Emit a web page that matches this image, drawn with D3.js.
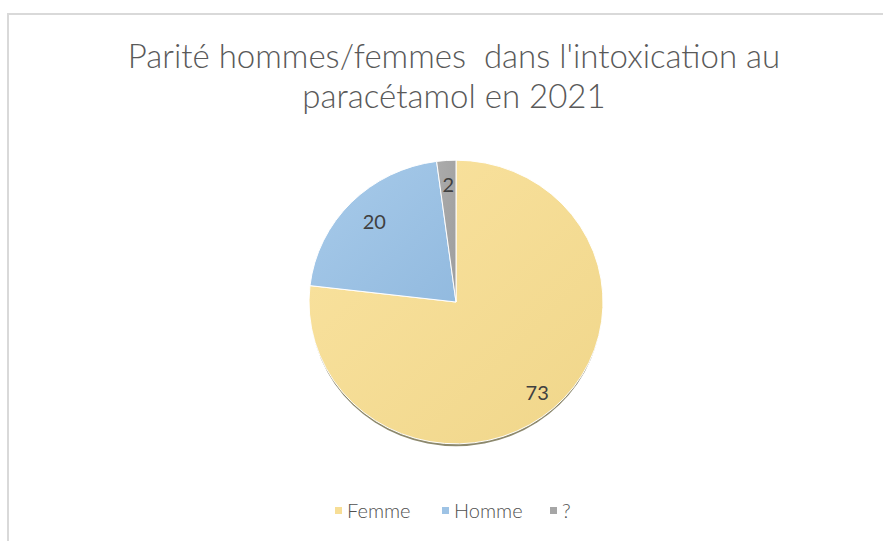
<!DOCTYPE html>
<html lang="fr">
<head>
<meta charset="UTF-8">
<title>Parité hommes/femmes</title>
<style>
  body { margin: 0; background: #fff; }
  svg { display: block; font-family: Lato, "Open Sans", sans-serif; }
</style>
</head>
<body>
<div id="chart"></div>
<script src="https://d3js.org/d3.v7.min.js"></script>
<script>
  // data
  const categories = ["Femme", "Homme", "?"];
  const values = [73, 20, 2];
  const colors = ["#F7DE96", "#9EC3E5", "#A6A6A6"];
  const titleLines = ["Parité hommes/femmes  dans l'intoxication au", "paracétamol en 2021"];

  const W = 883, H = 541;
  const svg = d3.select("#chart").append("svg")
    .attr("width", W).attr("height", H);

  // chart frame
  svg.append("rect")
    .attr("x", 8).attr("y", 14)
    .attr("width", W + 20).attr("height", H + 20)
    .attr("fill", "#fff")
    .attr("stroke", "#d9d9d9")
    .attr("stroke-width", 2);

  // title
  svg.append("g").selectAll("text")
    .data(titleLines)
    .enter().append("text")
    .attr("x", 454)
    .attr("y", (d, i) => 68 + i * 40)
    .attr("text-anchor", "middle")
    .attr("font-size", 33)
    .attr("font-weight", 300)
    .attr("fill", "#595959")
    .attr("xml:space", "preserve")
    .text(d => d);

  // gradients
  const defs = svg.append("defs");
  const grads = [["#FAE3A0", "#F0D68A"], ["#A8CBEA", "#92BADF"], ["#ABABAB", "#9E9E9E"]];
  grads.forEach((g, i) => {
    const lg = defs.append("linearGradient")
      .attr("id", "g" + i)
      .attr("x1", "0%").attr("y1", "0%").attr("x2", "100%").attr("y2", "100%");
    lg.append("stop").attr("offset", "0%").attr("stop-color", g[0]);
    lg.append("stop").attr("offset", "100%").attr("stop-color", g[1]);
  });

  const cx = 456, cy = 302, r = 147;
  const pie = d3.pie().sort(null).value(d => d.v);
  const arcs = pie(categories.map((c, i) => ({ c: c, v: values[i] })));
  const arc = d3.arc().innerRadius(0).outerRadius(r);

  const g = svg.append("g")
    .attr("transform", `translate(${cx},${cy}) scale(1,0.965)`);

  // shadow
  g.append("circle")
    .attr("cx", 0).attr("cy", 3.5).attr("r", r - 1)
    .attr("fill", "#6f6a48")
    .attr("opacity", 0.8);

  g.selectAll("path.slice")
    .data(arcs)
    .enter().append("path")
    .attr("class", "slice")
    .attr("d", arc)
    .attr("fill", (d, i) => "url(#g" + i + ")")
    .attr("stroke", "#fff")
    .attr("stroke-width", 1);

  // data labels
  const labelR = [0.83, 0.78, 0.8];
  g.selectAll("text.lbl")
    .data(arcs)
    .enter().append("text")
    .attr("class", "lbl")
    .attr("transform", (d, i) => {
      const p = d3.arc().innerRadius(r * labelR[i]).outerRadius(r * labelR[i]).centroid(d);
      return `translate(${p[0]},${p[1] / 0.965}) scale(1,${1 / 0.965})`;
    })
    .attr("text-anchor", "middle")
    .attr("dy", "0.35em")
    .attr("font-size", 20)
    .attr("fill", "#404040")
    .text(d => d.data.v);

  // legend
  const legX = [335, 442, 550];
  const leg = svg.append("g").selectAll("g")
    .data(categories)
    .enter().append("g")
    .attr("transform", (d, i) => `translate(${legX[i]},511)`);
  leg.append("rect")
    .attr("x", 0).attr("y", -4)
    .attr("width", 7).attr("height", 7)
    .attr("fill", (d, i) => colors[i]);
  leg.append("text")
    .attr("x", 12).attr("dy", "0.35em")
    .attr("font-size", 20)
    .attr("font-weight", 300)
    .attr("fill", "#505050")
    .text(d => d);
</script>
</body>
</html>
